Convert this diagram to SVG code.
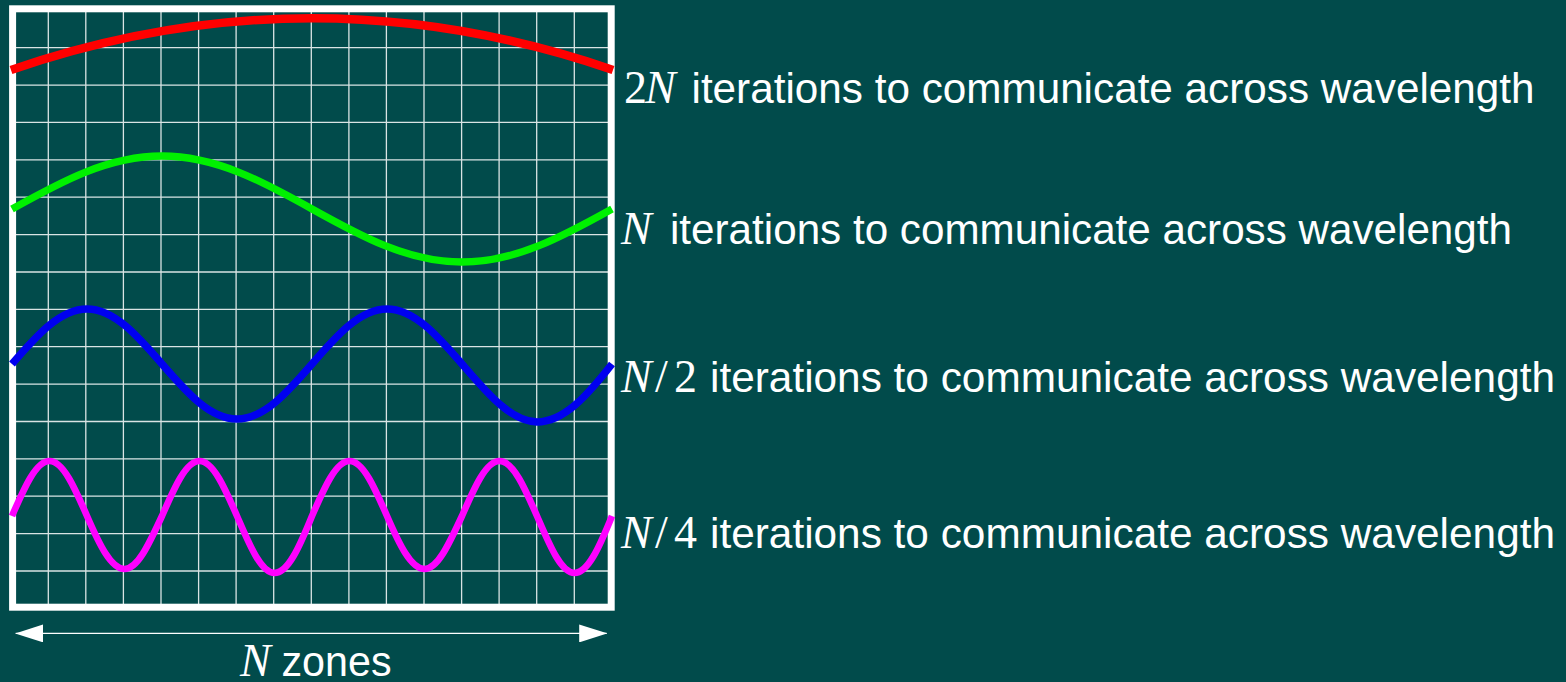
<svg xmlns="http://www.w3.org/2000/svg" width="1566" height="682" viewBox="0 0 1566 682">
<style>
.bg{fill:#014b4b}
.grid{stroke:#ffffff;stroke-width:1.3;stroke-opacity:0.85;fill:none}
.frame{fill:none;stroke:#ffffff;stroke-width:7}
.wave{fill:none;stroke-linecap:butt;stroke-linejoin:round}
.lbl{fill:#ffffff;font-family:"Liberation Sans",Arial,sans-serif;font-size:42px}
.math{fill:#ffffff;font-family:"Liberation Serif","Times New Roman",serif;font-size:46px}
.it{font-style:italic}
.dim{stroke:#ffffff;stroke-width:1.4;fill:none}
</style>
<defs>
<marker id="arrowhead" markerUnits="userSpaceOnUse" markerWidth="28" markerHeight="18" refX="27.5" refY="9" orient="auto-start-reverse">
<path d="M0,0 L28,9 L0,18 z" fill="#ffffff"/>
</marker>
</defs>
<rect class="bg" x="0" y="0" width="1566" height="682"/>
<g id="grid">
<path class="grid" d="M48.3,10V608M85.8,10V608M123.4,10V608M161,10V608M198.6,10V608M236.1,10V608M273.7,10V608M311.3,10V608M348.9,10V608M386.4,10V608M424,10V608M461.6,10V608M499.1,10V608M536.7,10V608M574.3,10V608
M10,47.7H612M10,85.1H612M10,122.4H612M10,159.8H612M10,197.2H612M10,234.6H612M10,272H612M10,309.3H612M10,346.7H612M10,384.1H612M10,421.5H612M10,458.9H612M10,496.2H612M10,533.6H612M10,571H612"/>
</g>
<g id="frame">
<rect class="frame" x="12.6" y="8.8" width="598.6" height="598.4"/>
</g>
<g id="waves">
<path id="wave-2N" class="wave" stroke="#ff0000" stroke-width="8.5" d="M11,70 Q312,-33.4 613,70"/>
<path id="wave-N" class="wave" stroke="#00f000" stroke-width="7.3" d="M12,209 c48.9,-27.2 95.7,-53 150,-53 c54.3,0 101.1,25.8 150,53 c48.9,27.2 95.7,53 150,53 c54.3,0 101.1,-25.8 150,-53"/>
<path id="wave-N2" class="wave" stroke="#0000f0" stroke-width="7.5" d="M12,364 c24.46,-28.18 47.86,-55 75,-55 c27.14,0 50.54,26.82 75,55 c24.46,28.18 47.86,55 75,55 c27.14,0 50.54,-26.82 75,-55 c24.46,-28.18 47.86,-55 75,-55 c27.14,0 50.54,26.82 75,55 c24.46,28.18 47.86,57 75,58 c27.14,0 50.54,-26.82 75,-58"/>
<path id="wave-N4" class="wave" stroke="#ff00ff" stroke-width="6.7" d="M12,516 c12.23,-28.18 23.93,-55 37.5,-55 c13.57,0 25.27,26.82 37.5,55 c12.23,28.18 23.93,53 37.5,53 c13.57,0 25.27,-26.82 37.5,-53 c12.23,-28.18 23.93,-55 37.5,-55 c13.57,0 25.27,26.82 37.5,55 c12.23,28.18 23.93,57 37.5,57 c13.57,0 25.27,-26.82 37.5,-57 c12.23,-28.18 23.93,-55 37.5,-55 c13.57,0 25.27,26.82 37.5,55 c12.23,28.18 23.93,53 37.5,53 c13.57,0 25.27,-26.82 37.5,-53 c12.23,-28.18 23.93,-55 37.5,-55 c13.57,0 25.27,26.82 37.5,55 c12.23,28.18 23.93,57 37.5,57 c13.57,0 25.27,-26.82 37.5,-57"/>
</g>
<g id="labels">
<g id="label-2N">
<text class="math" y="103"><tspan x="624">2</tspan><tspan class="it" x="645">N</tspan></text>
<text class="lbl" x="691.5" y="103" textLength="843" lengthAdjust="spacingAndGlyphs">iterations to communicate across wavelength</text>
</g>
<g id="label-N">
<text class="math it" x="621" y="244">N</text>
<text class="lbl" x="670" y="244" textLength="842" lengthAdjust="spacingAndGlyphs">iterations to communicate across wavelength</text>
</g>
<g id="label-N2">
<text class="math" y="392"><tspan class="it" x="621">N</tspan><tspan x="655">/</tspan><tspan x="674">2</tspan></text>
<text class="lbl" x="710" y="392" textLength="845" lengthAdjust="spacingAndGlyphs">iterations to communicate across wavelength</text>
</g>
<g id="label-N4">
<text class="math" y="548"><tspan class="it" x="621">N</tspan><tspan x="655">/</tspan><tspan x="674">4</tspan></text>
<text class="lbl" x="710" y="548" textLength="845" lengthAdjust="spacingAndGlyphs">iterations to communicate across wavelength</text>
</g>
</g>
<g id="dimension">
<line class="dim" x1="15.7" y1="633.4" x2="606.7" y2="633.4" marker-start="url(#arrowhead)" marker-end="url(#arrowhead)"/>
<text class="math it" x="240" y="676">N</text>
<text class="lbl" x="281.5" y="676" textLength="110" lengthAdjust="spacingAndGlyphs">zones</text>
</g>
</svg>
